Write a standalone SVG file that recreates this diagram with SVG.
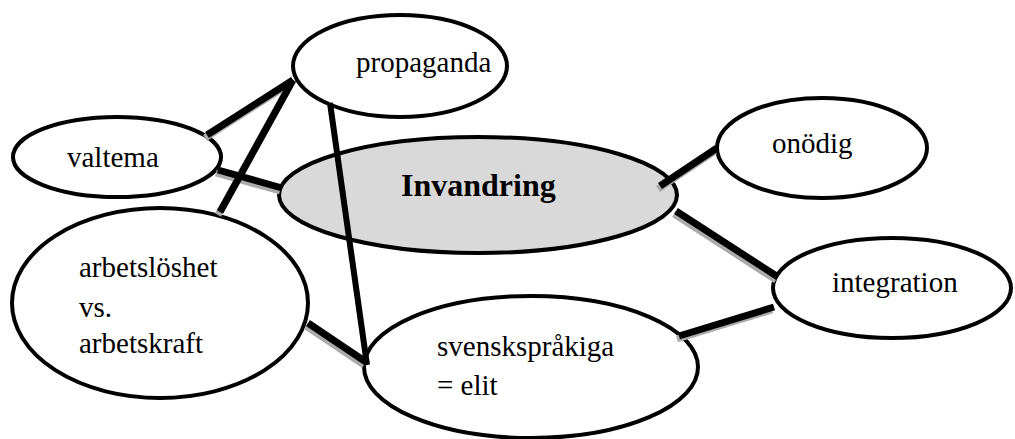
<svg xmlns="http://www.w3.org/2000/svg" width="1015" height="439" viewBox="0 0 1015 439">
<style>
.node{fill:#fff;stroke:#000;stroke-width:4}
.center{fill:#d9d9d9;stroke:#000;stroke-width:4}
text{font-family:'Liberation Serif',Tinos,'Times New Roman','DejaVu Serif',serif;fill:#000}
.t{font-size:29px}
.b{font-size:32px;font-weight:bold}
.sh{stroke:#ababab;stroke-width:7;fill:none}
.ln{stroke:#000;stroke-width:7;fill:none}
.thin{stroke:#000;stroke-width:6;fill:none}
</style>
<rect width="1015" height="439" fill="#fff"/>
<g id="propaganda"><ellipse class="node" cx="400" cy="66" rx="107" ry="51"/><text class="t" x="356" y="72">propaganda</text></g>
<g id="valtema"><ellipse class="node" cx="117" cy="157" rx="104" ry="40"/><text class="t" x="67" y="167">valtema</text></g>
<g id="invandring"><ellipse class="center" cx="478" cy="195" rx="199" ry="58"/><text class="b" x="401" y="196">Invandring</text></g>
<g id="onodig"><ellipse class="node" cx="822" cy="148" rx="105" ry="50"/><text class="t" x="772" y="153">onödig</text></g>
<g id="integration"><ellipse class="node" cx="892" cy="288" rx="119" ry="50"/><text class="t" x="832" y="292">integration</text></g>
<g id="arbetsloshet"><ellipse class="node" cx="160" cy="303" rx="148" ry="95"/><text class="t" x="79" y="277">arbetslöshet</text><text class="t" x="79" y="317">vs.</text><text class="t" x="79" y="353">arbetskraft</text></g>
<g id="svensksprakiga"><ellipse class="node" cx="531" cy="367" rx="167" ry="71"/><text class="t" x="437" y="356">svenskspråkiga</text><text class="t" x="437" y="395">= elit</text></g>
<g id="connectors">
<g transform="translate(-2,3)">
<line class="sh" x1="207" y1="135" x2="293" y2="80"/>
<line class="sh" x1="220" y1="212" x2="293" y2="80"/>
<line class="sh" x1="218" y1="170" x2="282" y2="188"/>
<line class="sh" x1="308" y1="323" x2="366" y2="362"/>
<line class="sh" x1="660" y1="186" x2="717" y2="148"/>
<line class="sh" x1="676" y1="211" x2="778" y2="277"/>
<line class="sh" x1="679" y1="336" x2="774" y2="307"/>
</g>
<line class="ln" x1="207" y1="135" x2="293" y2="80"/>
<line class="ln" x1="220" y1="212" x2="293" y2="80"/>
<line class="ln" x1="218" y1="170" x2="282" y2="188"/>
<line class="thin" x1="330" y1="103" x2="367" y2="365"/>
<line class="ln" x1="308" y1="323" x2="366" y2="362"/>
<line class="ln" x1="660" y1="186" x2="717" y2="148"/>
<line class="ln" x1="676" y1="211" x2="778" y2="277"/>
<line class="ln" x1="679" y1="336" x2="774" y2="307"/>
</g>
</svg>
